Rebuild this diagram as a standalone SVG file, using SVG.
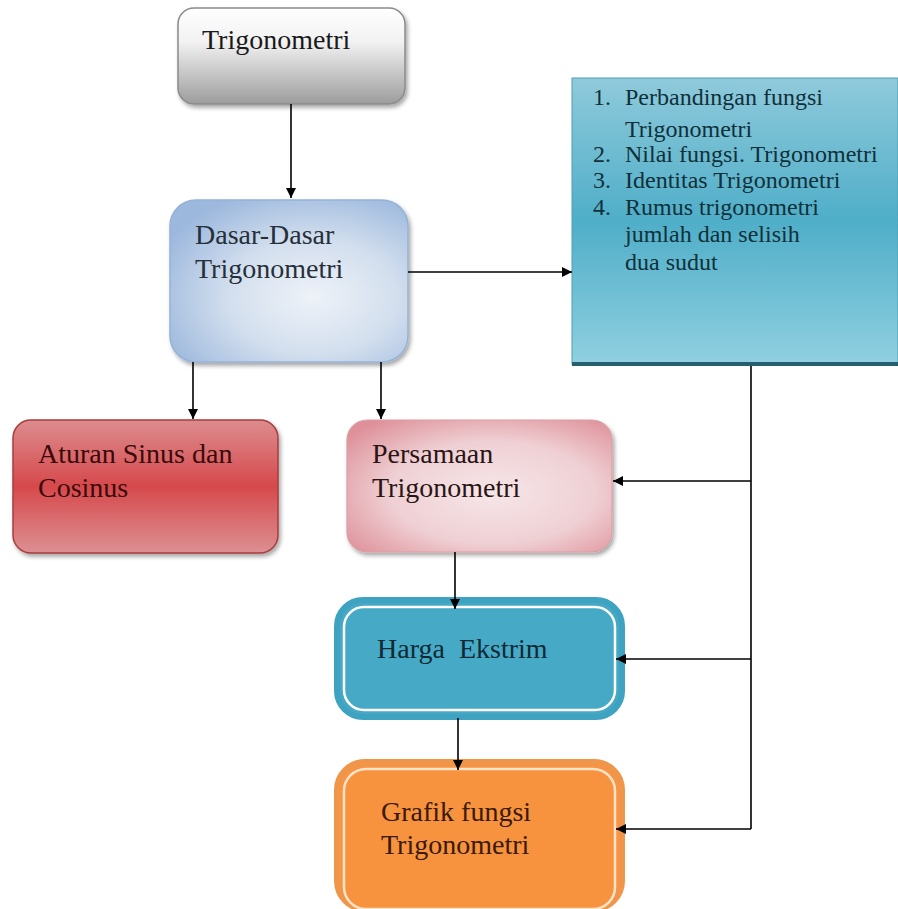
<svg xmlns="http://www.w3.org/2000/svg" width="898" height="909" viewBox="0 0 898 909">
<defs>
<linearGradient id="gGray" x1="0" y1="0" x2="0" y2="1">
<stop offset="0" stop-color="#ffffff"/><stop offset="0.35" stop-color="#f2f2f2"/><stop offset="1" stop-color="#9c9c9c"/>
</linearGradient>
<radialGradient id="gBlue" cx="0.6" cy="0.6" r="0.7">
<stop offset="0" stop-color="#eef2f8"/><stop offset="0.5" stop-color="#d3dfee"/><stop offset="1" stop-color="#9cb8dd"/>
</radialGradient>
<linearGradient id="gTeal" x1="0" y1="0" x2="0" y2="1">
<stop offset="0" stop-color="#8fcadb"/><stop offset="0.5" stop-color="#4faec8"/><stop offset="1" stop-color="#90d0e0"/>
</linearGradient>
<linearGradient id="gRed" x1="0" y1="0" x2="0" y2="1">
<stop offset="0" stop-color="#dc8c8e"/><stop offset="0.5" stop-color="#d6494c"/><stop offset="1" stop-color="#dc9092"/>
</linearGradient>
<radialGradient id="gPink" cx="0.55" cy="0.55" r="0.7">
<stop offset="0" stop-color="#f6e6e8"/><stop offset="0.55" stop-color="#efd0d4"/><stop offset="1" stop-color="#de8f98"/>
</radialGradient>
<filter id="sh" x="-10%" y="-10%" width="125%" height="130%">
<feDropShadow dx="2" dy="3" stdDeviation="2" flood-color="#000" flood-opacity="0.35"/>
</filter>
<marker id="ah" viewBox="0 0 10 10" refX="10" refY="5" markerWidth="10" markerHeight="10" markerUnits="userSpaceOnUse" orient="auto">
<path d="M0,0 L10,5 L0,10 z" fill="#000"/>
</marker>
</defs>
<style>
.t{font-family:"Liberation Serif","DejaVu Serif","Times New Roman",serif;font-size:28px;fill:#1a1a1a}
.l{font-family:"Liberation Serif","DejaVu Serif","Times New Roman",serif;font-size:24px;fill:#10303a}
.c{stroke:#000;stroke-width:1.6;fill:none}
</style>
<rect width="898" height="909" fill="#ffffff"/>

<g id="trigonometri">
<rect x="178" y="8" width="227" height="96" rx="16" fill="url(#gGray)" stroke="#8a8a8a" stroke-width="1.5" filter="url(#sh)"/>
<text class="t" x="202" y="49">Trigonometri</text>
</g>

<g id="dasar">
<rect x="170" y="200" width="238" height="162" rx="26" fill="url(#gBlue)" stroke="#95b3d7" stroke-width="1.5" filter="url(#sh)"/>
<text class="t" x="195" y="244" style="fill:#26303a">Dasar-Dasar</text>
<text class="t" x="195" y="278" style="fill:#26303a">Trigonometri</text>
</g>

<g id="list">
<rect x="572" y="78" width="326" height="286" fill="url(#gTeal)" stroke="#4c9fb5" stroke-width="1"/>
<line x1="572" y1="364" x2="898" y2="364" stroke="#255e6c" stroke-width="4"/>
<text class="l" x="593" y="105">1.</text><text class="l" x="625" y="105">Perbandingan fungsi</text>
<text class="l" x="625" y="137">Trigonometri</text>
<text class="l" x="593" y="162">2.</text><text class="l" x="625" y="162">Nilai fungsi. Trigonometri</text>
<text class="l" x="593" y="188">3.</text><text class="l" x="625" y="188">Identitas Trigonometri</text>
<text class="l" x="593" y="215">4.</text><text class="l" x="625" y="215">Rumus trigonometri</text>
<text class="l" x="625" y="242">jumlah dan selisih</text>
<text class="l" x="625" y="270">dua sudut</text>
</g>

<g id="aturan">
<rect x="13" y="420" width="265" height="133" rx="18" fill="url(#gRed)" stroke="#a83c3e" stroke-width="1.5" filter="url(#sh)"/>
<text class="t" x="38" y="463" style="fill:#3a0a0a">Aturan Sinus dan</text>
<text class="t" x="38" y="497" style="fill:#3a0a0a">Cosinus</text>
</g>

<g id="persamaan">
<rect x="347" y="420" width="265" height="132" rx="20" fill="url(#gPink)" stroke="#d9a0a6" stroke-width="1.2" filter="url(#sh)"/>
<text class="t" x="372" y="463" style="fill:#2a1515">Persamaan</text>
<text class="t" x="372" y="497" style="fill:#2a1515">Trigonometri</text>
</g>

<g id="harga">
<rect x="337" y="600" width="285" height="117" rx="26" fill="#46a8c5" stroke="#3ea3c1" stroke-width="6"/>
<rect x="344" y="607" width="271" height="103" rx="20" fill="#46a9c6" stroke="#ffffff" stroke-width="2.5"/>
<text class="t" x="377" y="658" style="fill:#102a35" xml:space="preserve">Harga  Ekstrim</text>
</g>

<g id="grafik">
<rect x="337" y="762" width="285" height="147" rx="28" fill="#f79446" stroke="#f0964a" stroke-width="6"/>
<rect x="344" y="769" width="271" height="140" rx="22" fill="#f7923f" stroke="#fde3c8" stroke-width="2.5"/>
<text class="t" x="381" y="821" style="fill:#3a1a05">Grafik fungsi</text>
<text class="t" x="381" y="854" style="fill:#3a1a05">Trigonometri</text>
</g>

<g id="connectors">
<line class="c" x1="291" y1="104" x2="291" y2="198" marker-end="url(#ah)"/>
<line class="c" x1="408" y1="272" x2="572" y2="272" marker-end="url(#ah)"/>
<line class="c" x1="193" y1="362" x2="193" y2="419" marker-end="url(#ah)"/>
<line class="c" x1="381" y1="362" x2="381" y2="419" marker-end="url(#ah)"/>
<line class="c" x1="455" y1="552" x2="455" y2="609" marker-end="url(#ah)"/>
<line class="c" x1="458" y1="718" x2="458" y2="770" marker-end="url(#ah)"/>
<polyline class="c" points="751,366 751,829"/>
<line class="c" x1="751" y1="481" x2="613" y2="481" marker-end="url(#ah)"/>
<line class="c" x1="751" y1="659" x2="616" y2="659" marker-end="url(#ah)"/>
<line class="c" x1="751" y1="829" x2="616" y2="829" marker-end="url(#ah)"/>
</g>
</svg>
